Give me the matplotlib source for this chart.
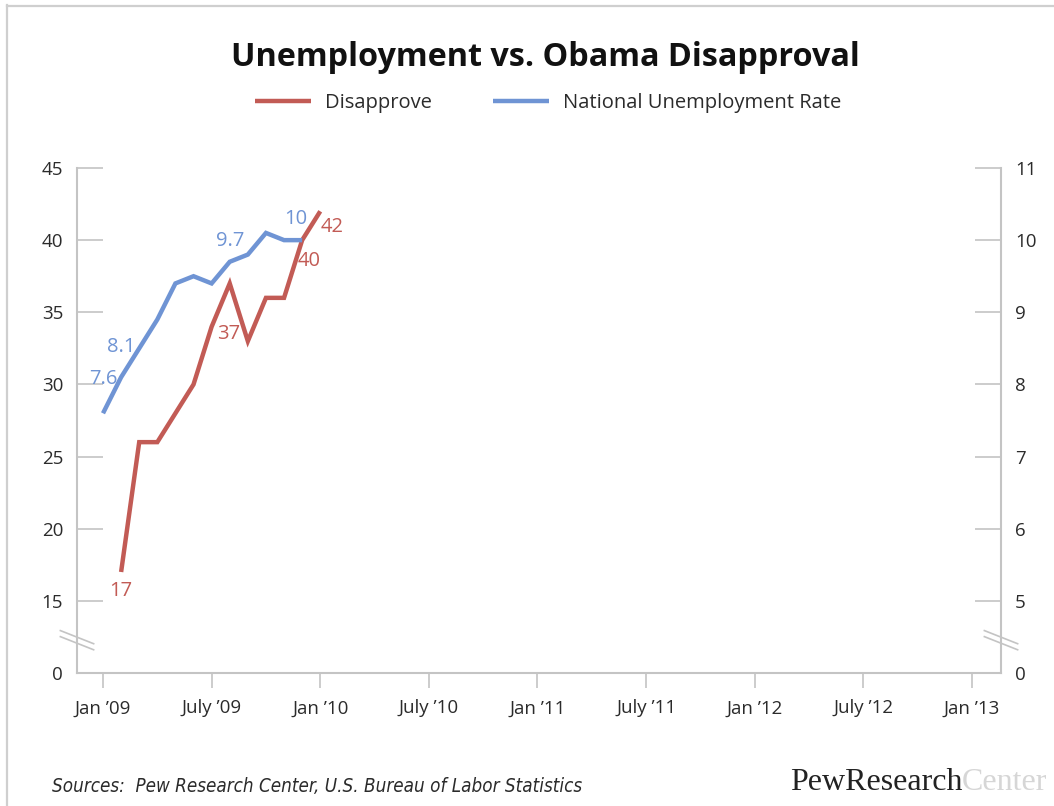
import matplotlib
matplotlib.use("Agg")
import matplotlib.pyplot as plt
from matplotlib.lines import Line2D

# ---- data ----
tick_months = [0, 6, 12, 18, 24, 30, 36, 42, 48]
tick_labels = ["Jan \u201909", "July \u201909", "Jan \u201910", "July \u201910", "Jan \u201911",
               "July \u201911", "Jan \u201912", "July \u201912", "Jan \u201913"]

unemp_months = [0, 1, 2, 3, 4, 5, 6, 7, 8, 9, 10, 11]
unemployment = [7.6, 8.1, 8.5, 8.9, 9.4, 9.5, 9.4, 9.7, 9.8, 10.1, 10.0, 10.0]

disapp_months = [1, 2, 3, 5, 6, 7, 8, 9, 10, 11, 12]
disapprove = [17, 26, 26, 30, 34, 37, 33, 36, 36, 40, 42]

left_ticks = [10, 15, 20, 25, 30, 35, 40, 45]
left_labels = ["0", "15", "20", "25", "30", "35", "40", "45"]
right_ticks = [4, 5, 6, 7, 8, 9, 10, 11]
right_labels = ["0", "5", "6", "7", "8", "9", "10", "11"]

# labels: (index, text, dx_px, dy_px)
unemp_annot = [(0, "7.6", 0, 34), (1, "8.1", 0, 30), (7, "9.7", 0, 21), (11, "10", -6, 21)]
disapp_annot = [(0, "17", 0, -19), (5, "37", -1, -51), (9, "40", 7, -21), (10, "42", 12, -16)]

title = "Unemployment vs. Obama Disapproval"
source = "Sources:  Pew Research Center, U.S. Bureau of Labor Statistics"

RED = "#c25b55"
BLUE = "#6f94d4"
GRAY = "#c4c4c4"
TXT = "#2b2b2b"

plt.rcParams["font.family"] = ["Open Sans", "DejaVu Sans"]

W, H = 1054, 806
fig = plt.figure(figsize=(W / 100, H / 100), dpi=100)
fig.patch.set_facecolor("white")

ax = fig.add_axes([77 / W, 1 - 673 / H, (1001 - 77) / W, (673 - 168) / H])
ax2 = ax.twinx()

l_red, = ax.plot(disapp_months, disapprove, color=RED, lw=3.2, solid_joinstyle="miter",
                 solid_capstyle="butt", label="Disapprove", zorder=3)
l_blue, = ax2.plot(unemp_months, unemployment, color=BLUE, lw=3.2, solid_joinstyle="miter",
                   solid_capstyle="butt", label="National Unemployment Rate", zorder=3)

ax.set_xlim(-26 / 18.1, 48 + 29 / 18.1)
ax.set_ylim(10, 45)
ax2.set_ylim(4, 11)

ax.set_xticks(tick_months)
ax.set_xticklabels(tick_labels)
ax.set_yticks(left_ticks)
ax.set_yticklabels(left_labels)
ax2.set_yticks(right_ticks)
ax2.set_yticklabels(right_labels)

for a in (ax, ax2):
    for s in a.spines.values():
        s.set_color(GRAY)
        s.set_linewidth(1.5)
    a.spines["top"].set_visible(False)
ax.spines["right"].set_visible(False)
ax2.spines["left"].set_visible(False)
ax2.spines["bottom"].set_visible(False)

ax.tick_params(axis="y", direction="in", length=19, width=1.2, color=GRAY,
               labelsize=13.5, labelcolor=TXT, pad=10)
ax2.tick_params(axis="y", direction="in", length=19, width=1.2, color=GRAY,
                labelsize=13.5, labelcolor=TXT, pad=10)
ax.tick_params(axis="x", direction="out", length=11, width=1.2, color=GRAY,
               labelsize=13.5, labelcolor=TXT, pad=8)

for i, t, dx, dy in unemp_annot:
    ax2.annotate(t, (unemp_months[i], unemployment[i]), xytext=(dx, dy),
                 textcoords="offset pixels", ha="center", va="center",
                 color=BLUE, fontsize=14.5)
for i, t, dx, dy in disapp_annot:
    ax.annotate(t, (disapp_months[i], disapprove[i]), xytext=(dx, dy),
                textcoords="offset pixels", ha="center", va="center",
                color=RED, fontsize=14.5)

# axis break marks
for x0 in (0.0, 1.0):
    for off in (0.0, 0.012):
        ax.plot([x0 - 0.018, x0 + 0.018], [0.084 - off, 0.058 - off], transform=ax.transAxes,
                color=GRAY, lw=1.2, clip_on=False, zorder=5)

# title & legend
fig.text(545 / W, 1 - 57 / H, title, ha="center", va="center", fontsize=23.3,
         fontweight="bold", color="#111111")
fig.legend(handles=[l_red, l_blue], loc="center", bbox_to_anchor=(548 / W, 1 - 103 / H),
           ncol=2, frameon=False, fontsize=14.5, handlelength=2.8, columnspacing=3.0,
           handletextpad=0.7, labelcolor=TXT)

# footer
fig.text(52 / W, 1 - 787 / H, source, ha="left", va="center", fontsize=13.5,
         style="italic", family="DejaVu Sans", stretch="condensed", color=TXT)
fig.text(790 / W, 1 - 782 / H, "PewResearch", ha="left", va="center", fontsize=23,
         family=["Liberation Serif", "DejaVu Serif"], color="#222222")
fig.text(962 / W, 1 - 782 / H, "Center", ha="left", va="center", fontsize=23,
         family=["Liberation Serif", "DejaVu Serif"], color="#d6d6d6")

# outer frame
fig.add_artist(Line2D([6.5 / W, 6.5 / W], [0, 1 - 5 / H], transform=fig.transFigure,
                      color="#cfcfcf", lw=1.6))
fig.add_artist(Line2D([6.5 / W, 1], [1 - 5.5 / H, 1 - 5.5 / H], transform=fig.transFigure,
                      color="#cfcfcf", lw=1.6))

fig.savefig("out.png", dpi=100, facecolor="white")
